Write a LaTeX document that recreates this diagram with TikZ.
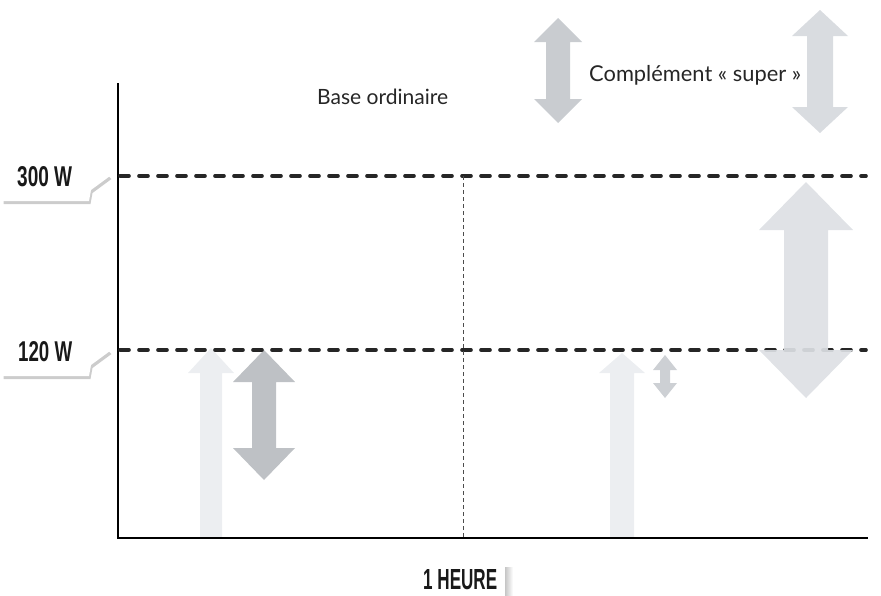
\documentclass[tikz,border=0pt]{standalone}
\usepackage{fontspec}
\setmainfont{Lato}
\newfontfamily\labfont{Liberation Sans}
\usetikzlibrary{shadows}
\definecolor{baseC}{HTML}{ECEEF1}
\definecolor{darkC}{HTML}{BEC1C5}
\definecolor{midC}{HTML}{CDD0D4}
\definecolor{bigC}{HTML}{DDE0E4}
\definecolor{legL}{HTML}{C9CCD0}
\definecolor{legR}{HTML}{D9DCE0}
\tikzset{
  axisline/.style={line width=1.8pt, black},
  levelline/.style={line width=3.6pt, black!85, line cap=round, dash pattern=on 9pt off 10pt},
  hourline/.style={line width=0.8pt, black!70, dash pattern=on 4pt off 3pt},
  labtab/.style={fill=white, draw=none, drop shadow={opacity=0.4, shadow xshift=1.5pt, shadow yshift=-3pt}},
  legtext/.style={inner sep=0pt, anchor=west, text=black!85},
  captext/.style={inner sep=0pt, text=black!90}
}
% double arrow: cx, top tip, bottom tip, shaft half, head half, head length
\newcommand\dblarrowshape[7]{%
  \fill[#7] (#1,#2) -- ({#1+#5},{#2+#6}) -- ({#1+#4},{#2+#6}) -- ({#1+#4},{#3-#6})
    -- ({#1+#5},{#3-#6}) -- (#1,#3) -- ({#1-#5},{#3-#6}) -- ({#1-#4},{#3-#6})
    -- ({#1-#4},{#2+#6}) -- ({#1-#5},{#2+#6}) -- cycle;}
% up arrow: cx, tip, bottom, shaft half, head half, head length
\newcommand\uparrowshape[7]{%
  \fill[#7] (#1,#2) -- ({#1+#5},{#2+#6}) -- ({#1+#4},{#2+#6}) -- ({#1+#4},#3)
    -- ({#1-#4},#3) -- ({#1-#4},{#2+#6}) -- ({#1-#5},{#2+#6}) -- cycle;}
\begin{document}
\begin{tikzpicture}[x=1pt,y=-1pt]
\useasboundingbox (0,0) rectangle (881,595);
% legend arrows
\dblarrowshape{558}{18}{123}{12}{24}{24}{legL}
\dblarrowshape{820}{10}{133}{13}{28}{26}{legR}
\node[legtext] (leg) at (589,75) {\resizebox{212pt}{!}{Complément « super »}};
\node[legtext] (base) at (317,97) {\resizebox{131pt}{!}{Base ordinaire}};
% data arrows
\uparrowshape{211}{348}{538}{11}{23}{25}{baseC}
\dblarrowshape{264}{350}{480}{12}{31}{32}{darkC}
\uparrowshape{622}{353}{538}{12}{23}{20}{baseC}
\dblarrowshape{665}{355}{398}{5}{12}{15}{midC}
% axes
\coordinate (o) at (118,538);
\coordinate (ytop) at (118,83);
\coordinate (xend) at (868,538);
\draw[axisline] (ytop) -- (o) -- (xend);
% level lines
\coordinate (l300a) at (120,176);
\coordinate (l300b) at (866,176);
\coordinate (l120a) at (120,350);
\coordinate (l120b) at (866,350);
\draw[levelline] (l300a) -- (l300b);
\draw[levelline] (l120a) -- (l120b);
\coordinate (ht) at (463,176);
\coordinate (hb) at (463,538);
\draw[hourline] (ht) -- (hb);
% big arrow above lines
\dblarrowshape{806}{182}{398}{22}{47}{48}{bigC, opacity=0.92}
% value tabs
\fill[labtab] (2,156) -- (90,156) -- (110,176) -- (91,190) -- (89,201) -- (2,201) -- cycle;
\fill[labtab] (2,331) -- (90,331) -- (110,351) -- (91,365) -- (89,376) -- (2,376) -- cycle;
\node[captext, anchor=south west] (v300) at (17,187) {\resizebox{55pt}{20pt}{\labfont\bfseries 300 W}};
\node[captext, anchor=south west] (v120) at (18,362) {\resizebox{54pt}{20pt}{\labfont\bfseries 120 W}};
% hour caption
\node[captext, anchor=south west] (hour) at (423,590) {\resizebox{74pt}{20pt}{\labfont\bfseries 1 HEURE}};
\shade[left color=gray!45, right color=white] (505,567) rectangle (513,595);
\end{tikzpicture}
\end{document}
